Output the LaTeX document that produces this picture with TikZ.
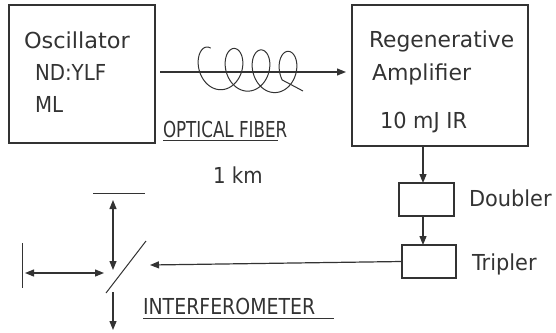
\documentclass[tikz,border=0pt]{standalone}
\usepackage{fontspec}
\usepackage{graphicx}
\setmainfont{DejaVu Sans}
\usetikzlibrary{arrows.meta}
\definecolor{ink}{HTML}{333333}
\begin{document}
\begin{tikzpicture}[x=1pt,y=-1pt,
  every node/.style={inner sep=0pt,outer sep=0pt,text=ink,font=\fontsize{22}{24}\selectfont},
  lbl/.style={anchor=base west},
  box/.style={draw=ink,line width=1.4pt},
  ln/.style={draw=ink,line width=1.2pt},
  arr/.style={ln,-{Triangle[length=9pt,width=7pt]}},
  darr/.style={ln,{Triangle[length=9pt,width=7pt]}-{Triangle[length=9pt,width=7pt]}}]
\useasboundingbox (0,0) rectangle (556,332);
% boxes
\draw[box] (9,5) rectangle (155,143);
\draw[box] (352,5) rectangle (528,146);
\node[box,minimum width=55pt,minimum height=33pt] (dbl) at (426.5,199.5) {};
\node[box,minimum width=54pt,minimum height=33pt] (trp) at (429,261.5) {};
% texts
\node[lbl] (t1) at (24,48) {\scalebox{1.02}[1]{Oscillator}};
\node[lbl] (t2) at (35,80) {\scalebox{0.9}[1]{ND:YLF}};
\node[lbl] (t3) at (35,112) {\scalebox{0.9}[1]{ML}};
\node[lbl] (t4) at (369,47) {\scalebox{0.99}[1]{Regenerative}};
\node[lbl] (t5) at (372,80) {\scalebox{1.0}[1]{Amplifier}};
\node[lbl] (t6) at (380,128) {\scalebox{0.95}[1]{10 mJ IR}};
\node[lbl] (t7) at (163,137) {\scalebox{0.76}[1]{OPTICAL FIBER}};
\draw[ln,line width=1pt] (163,140.5) -- (278,140.5);
\node[lbl] (t8) at (213,183) {\scalebox{0.9}[1]{1 km}};
\node[lbl] (t9) at (469,206) {\scalebox{0.95}[1]{Doubler}};
\node[lbl] (t10) at (472,270) {\scalebox{0.95}[1]{Tripler}};
\node[lbl] (t11) at (143,314) {\scalebox{0.86}[1]{INTERFEROMETER}};
\draw[ln,line width=1pt] (143,318) -- (334,318);
% fiber
\coordinate (fs) at (160,72);
\coordinate (fe) at (346,72);
\draw[arr] (fs) -- (fe);
\draw[ln,line width=1pt,smooth] plot[domain=-20:3*360+110,samples=200,variable=\t]
  ({207+0.075*\t-15*sin(\t)}, {68-21*cos(\t)+0.004*\t}) -- (303,91);
% amp chain
\coordinate (ampB) at (423,146);
\draw[arr] (ampB) -- (dbl.north -| ampB);
\draw[arr] (dbl.south -| ampB) -- (trp.north -| ampB);
% interferometer
\coordinate (bs) at (150,265);
\draw[arr] (trp.west) -- (bs);
\draw[ln,line width=1pt] (106,293) -- (146,241);
\draw[ln,line width=1pt] (93,193) -- (145,193);
\draw[darr] (113,200) -- (113,270);
\draw[ln,line width=1pt] (22,243) -- (22,288);
\draw[darr] (25,273) -- (104,273);
\draw[arr] (113,292) -- (113,330);
\end{tikzpicture}
\end{document}
